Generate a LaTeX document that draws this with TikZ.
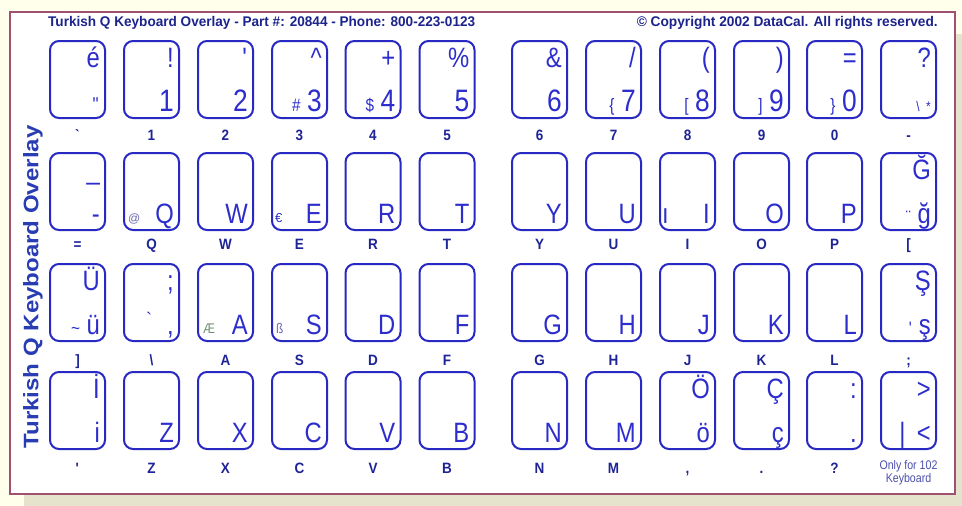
\documentclass[tikz,border=0pt]{standalone}
\usepackage{fontspec}
\setmainfont{Liberation Sans}
\newfontfamily\kf[FakeStretch=0.85]{Liberation Sans}
\newfontfamily\lf[FakeStretch=0.9]{Liberation Sans}
\usepackage{graphicx}
\definecolor{bgcream}{RGB}{255,255,236}
\definecolor{shadowc}{RGB}{230,227,205}
\definecolor{panelb}{RGB}{160,80,112}
\definecolor{keyblue}{RGB}{40,40,195}
\definecolor{txtblue}{RGB}{45,45,205}
\definecolor{lblblue}{RGB}{30,35,150}
\definecolor{titleblue}{RGB}{28,36,140}
\definecolor{vertblue}{RGB}{40,60,180}
\definecolor{aegreen}{RGB}{115,145,115}
\definecolor{grayblue}{RGB}{105,105,175}
\newcommand\dg[1]{{\fontsize{31}{31}\selectfont #1}}
\newcommand\sm[1]{{\fontsize{18}{18}\selectfont #1}}
\newcommand\tn[1]{{\fontsize{14}{14}\selectfont #1}}
% name, xleft, ytop, upper, lower, label, labeloffset
\newcommand\kcap[7]{%
 \node[keybox] (#1) at ({#2+27.5},{#3+38.5}) {};
 \node[ktext] (#1u) at ([xshift=-6pt,yshift=-27pt]#1.north east) {#4};
 \node[ktext] (#1l) at ([xshift=-6pt,yshift=8pt]#1.south east) {#5};
 \node[lbl] (#1b) at ([yshift=-#7pt]#1.south) {#6};
}
\begin{document}
\begin{tikzpicture}[x=1pt,y=-1pt,
 keybox/.style={draw=keyblue, line width=2pt, rounded corners=9pt, minimum width=55pt, minimum height=77pt, inner sep=0pt},
 ktext/.style={text=txtblue, inner sep=0pt, anchor=base east, font=\kf\fontsize{28}{28}\selectfont},
 smtext/.style={inner sep=0pt, anchor=base west, font=\kf\fontsize{14}{14}\selectfont},
 lbl/.style={text=lblblue, inner sep=0pt, anchor=base, font=\lf\bfseries\fontsize{15}{15}\selectfont}]
\useasboundingbox (0,0) rectangle (962,506);
\fill[bgcream] (0,0) rectangle (962,506);
\fill[shadowc] (24,34) rectangle (962,506);
\filldraw[fill=white, draw=panelb, line width=2pt] (10,12) rectangle (955,494);
% titles
\node[inner sep=0pt, anchor=base west, text=titleblue, font=\bfseries\fontsize{14}{14}\selectfont] (title) at (48,27)
 {\resizebox{427pt}{\height}{Turkish Q Keyboard Overlay - Part \#: 20844 - Phone: 800-223-0123}};
\node[inner sep=0pt, anchor=base east, text=titleblue, font=\bfseries\fontsize{14}{14}\selectfont] (copy) at (938,27)
 {\resizebox{301pt}{\height}{© Copyright 2002 DataCal. All rights reserved.}};
\node[inner sep=0pt, rotate=90, text=vertblue, font=\bfseries\fontsize{21}{21}\selectfont] (vert) at (33,287)
 {\resizebox{323pt}{\height}{Turkish Q Keyboard Overlay}};
% row 1
\kcap{ka1}{50}{41}{é}{{\fontsize{20}{20}\selectfont \textquotedbl}}{\textasciigrave}{21}
\kcap{ka2}{124}{41}{!}{\dg{1}}{1}{21}
\kcap{ka3}{198}{41}{\textquotesingle}{\dg{2}}{2}{21}
\kcap{ka4}{272}{41}{\textasciicircum}{\sm{\#} \dg{3}}{3}{21}
\kcap{ka5}{345.5}{41}{+}{\sm{\$} \dg{4}}{4}{21}
\kcap{ka6}{419.5}{41}{\%}{\dg{5}}{5}{21}
\kcap{ka7}{512}{41}{\&}{\dg{6}}{6}{21}
\kcap{ka8}{586}{41}{/}{\sm{\{} \dg{7}}{7}{21}
\kcap{ka9}{660}{41}{(}{\sm{[} \dg{8}}{8}{21}
\kcap{ka10}{734}{41}{)}{\sm{]} \dg{9}}{9}{21}
\kcap{ka11}{807}{41}{=}{\sm{\}} \dg{0}}{0}{21}
\kcap{ka12}{881}{41}{?}{\tn{\textbackslash\ \ *}}{-}{21}
% row 2
\kcap{kb1}{50}{153}{\_}{-}{=}{18}
\kcap{kb2}{124}{153}{}{Q}{Q}{18}
\kcap{kb3}{198}{153}{}{W}{W}{18}
\kcap{kb4}{272}{153}{}{E}{E}{18}
\kcap{kb5}{345.5}{153}{}{R}{R}{18}
\kcap{kb6}{419.5}{153}{}{T}{T}{18}
\kcap{kb7}{512}{153}{}{Y}{Y}{18}
\kcap{kb8}{586}{153}{}{U}{U}{18}
\kcap{kb9}{660}{153}{}{I}{I}{18}
\kcap{kb10}{734}{153}{}{O}{O}{18}
\kcap{kb11}{807}{153}{}{P}{P}{18}
\kcap{kb12}{881}{153}{Ğ}{\sm{¨} ğ}{[}{18}
\node[smtext, text=grayblue, font=\fontsize{12}{12}\selectfont] (kb2x) at ([xshift=5pt,yshift=9pt]kb2.south west) {@};
\node[smtext, text=txtblue, font=\fontsize{13}{13}\selectfont] (kb4x) at ([xshift=4pt,yshift=9pt]kb4.south west) {€};
\node[smtext, text=txtblue, font=\kf\fontsize{28}{28}\selectfont] (kb9x) at ([xshift=3pt,yshift=8pt]kb9.south west) {ı};
% row 3
\kcap{kc1}{50}{264}{Ü}{\sm{\textasciitilde} ü}{]}{23}
\kcap{kc2}{124}{264}{;}{,}{\textbackslash}{23}
\kcap{kc3}{198}{264}{}{A}{A}{23}
\kcap{kc4}{272}{264}{}{S}{S}{23}
\kcap{kc5}{345.5}{264}{}{D}{D}{23}
\kcap{kc6}{419.5}{264}{}{F}{F}{23}
\kcap{kc7}{512}{264}{}{G}{G}{23}
\kcap{kc8}{586}{264}{}{H}{H}{23}
\kcap{kc9}{660}{264}{}{J}{J}{23}
\kcap{kc10}{734}{264}{}{K}{K}{23}
\kcap{kc11}{807}{264}{}{L}{L}{23}
\kcap{kc12}{881}{264}{Ş}{\sm{\textquotesingle} ş}{;}{23}
\node[inner sep=0pt, text=txtblue, font=\fontsize{18}{18}\selectfont] (kc2x) at ([xshift=26pt,yshift=-56pt]kc2.north west) {\textasciigrave};
\node[smtext, text=aegreen] (kc3x) at ([xshift=6pt,yshift=9pt]kc3.south west) {Æ};
\node[smtext, text=grayblue] (kc4x) at ([xshift=5pt,yshift=9pt]kc4.south west) {ß};
% row 4
\kcap{kd1}{50}{372}{İ}{i}{\textquotesingle}{23}
\kcap{kd2}{124}{372}{}{Z}{Z}{23}
\kcap{kd3}{198}{372}{}{X}{X}{23}
\kcap{kd4}{272}{372}{}{C}{C}{23}
\kcap{kd5}{345.5}{372}{}{V}{V}{23}
\kcap{kd6}{419.5}{372}{}{B}{B}{23}
\kcap{kd7}{512}{372}{}{N}{N}{23}
\kcap{kd8}{586}{372}{}{M}{M}{23}
\kcap{kd9}{660}{372}{Ö}{ö}{,}{23}
\kcap{kd10}{734}{372}{Ç}{ç}{.}{23}
\kcap{kd11}{807}{372}{:}{.}{?}{23}
\kcap{kd12}{881}{372}{>}{| \,<}{}{23}
\node[inner sep=0pt, align=center, text=lblblue!80, font=\kf\fontsize{12.5}{13}\selectfont] (kd12n) at ([yshift=-23pt]kd12.south) {Only for 102\\Keyboard};
\end{tikzpicture}
\end{document}
